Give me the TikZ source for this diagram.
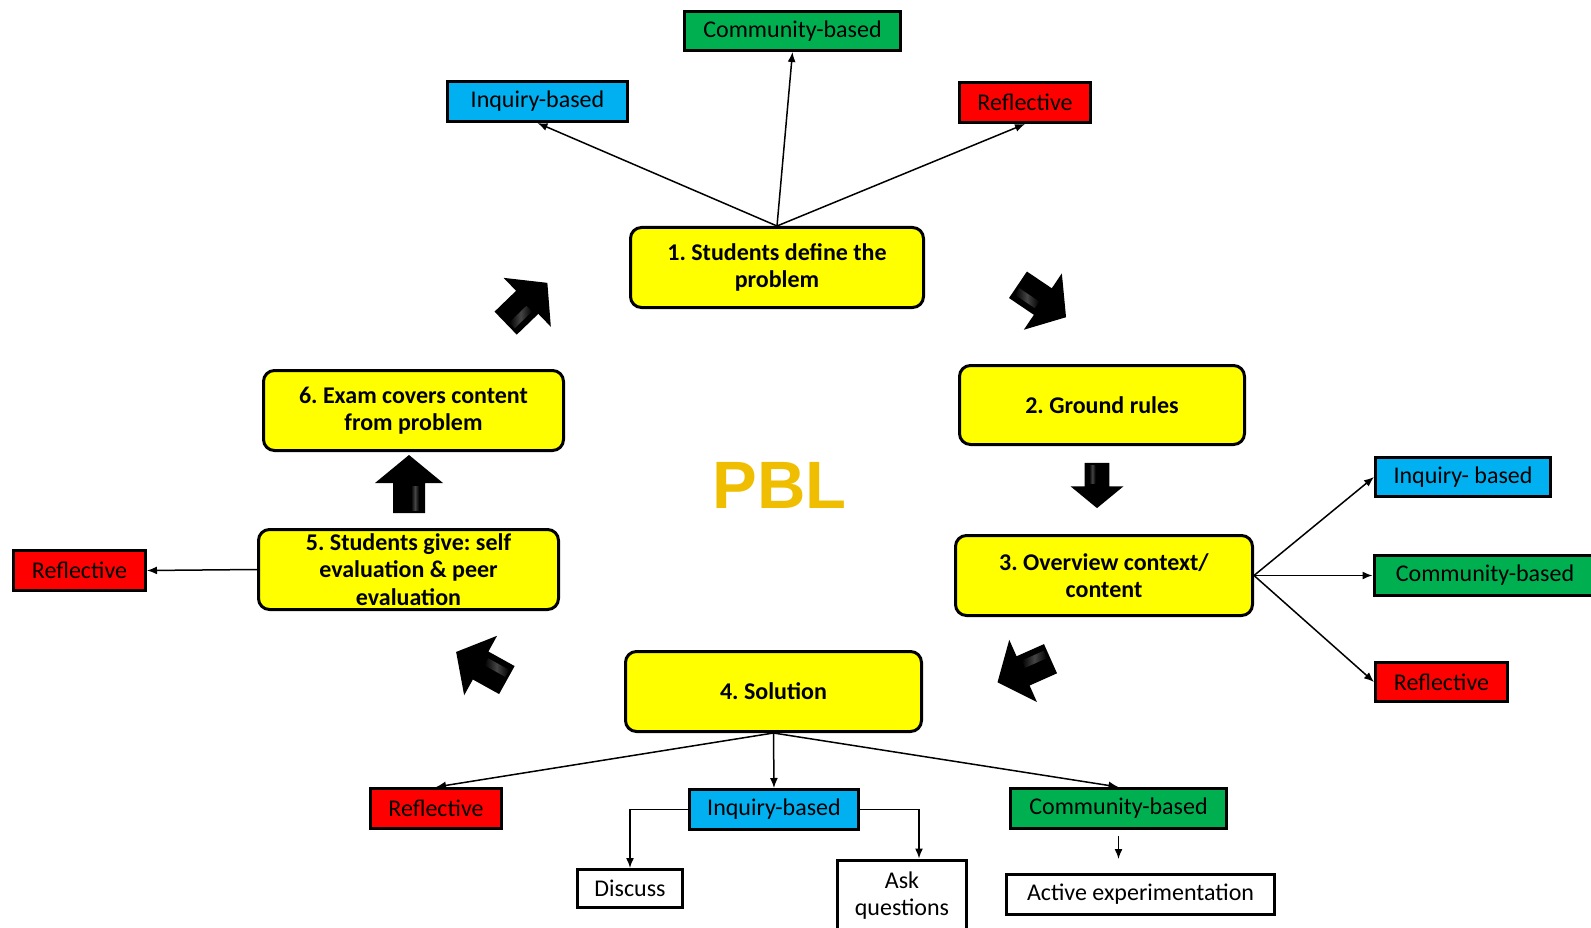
\documentclass[tikz,border=0pt]{standalone}
\usepackage{fontspec}
\setmainfont{Carlito}
\newfontfamily\pblfont{Liberation Sans}
\usetikzlibrary{arrows.meta,calc}
\definecolor{ybox}{RGB}{255,255,0}
\definecolor{cbox}{RGB}{0,176,240}
\definecolor{gbox}{RGB}{0,176,80}
\definecolor{rbox}{RGB}{255,0,0}
\definecolor{pblgold}{RGB}{240,190,0}
\newcommand\blkarrow[4]{%
  \begin{scope}[shift={(#1,#2)}, rotate=#3, scale=#4]
    \fill[black] (0,-29) -- (34,-1) -- (16,-1) -- (16,29) -- (-16,29) -- (-16,-1) -- (-34,-1) -- cycle;
    \shade[left color=black, right color=black, middle color=black!55, opacity=0.6]
      (2,2) -- (10,2) -- (10,26) -- (2,26) -- cycle;
  \end{scope}}
\frenchspacing
\begin{document}
\begin{tikzpicture}[x=1pt,y=-1pt,
  tag/.style={draw=black, line width=3pt, inner sep=0pt, align=center, text=black,
    font=\fontsize{24}{27}\selectfont},
  stage/.style={draw=black, line width=3pt, fill=ybox, rounded corners=11pt, inner sep=0pt,
    align=center, font=\fontsize{24}{27.5}\selectfont\bfseries},
  conn/.style={line width=1.5pt, -{Latex[length=10pt,width=8pt]}}
]
\useasboundingbox (0,0) rectangle (1591,928);
\clip (0,0) rectangle (1591,928);

% stages
\node[stage, minimum width=293pt, minimum height=80pt] (b1) at (777,267.5) {1. Students define the\\problem};
\node[stage, minimum width=285pt, minimum height=79pt] (b2) at (1102,405) {2. Ground rules};
\node[stage, minimum width=297pt, minimum height=80pt] (b3) at (1104,575.5) {3. Overview context/\\content};
\node[stage, minimum width=296pt, minimum height=80pt] (b4) at (773.5,691.5) {4. Solution};
\node[stage, minimum width=300pt, minimum height=80pt] (b5) at (408.5,569.5) {5. Students give: self\\evaluation \& peer\\evaluation};
\node[stage, minimum width=300pt, minimum height=80pt] (b6) at (413.5,410.5) {6. Exam covers content\\from problem};

% tags
\node[tag, fill=gbox, minimum width=216pt, minimum height=39pt] (comTop) at (792.5,31) {Community-based};
\node[tag, fill=cbox, minimum width=180pt, minimum height=40pt] (inqTop) at (537.5,101.5) {Inquiry-based};
\node[tag, fill=rbox, minimum width=131pt, minimum height=40pt] (refTop) at (1025,102.5) {Reflective};

\node[tag, fill=cbox, minimum width=175pt, minimum height=39pt] (inqR) at (1463,477) {Inquiry- based};
\node[tag, fill=gbox, minimum width=222pt, minimum height=40pt] (comR) at (1485,575.5) {Community-based};
\node[tag, fill=rbox, minimum width=132pt, minimum height=39pt] (refR) at (1441.5,682) {Reflective};

\node[tag, fill=rbox, minimum width=132pt, minimum height=40pt] (refL) at (79.5,570.5) {Reflective};

\node[tag, fill=rbox, minimum width=131pt, minimum height=40pt] (refB) at (436,808.5) {Reflective};
\node[tag, fill=cbox, minimum width=169pt, minimum height=40pt] (inqB) at (774,809.5) {Inquiry-based};
\node[tag, fill=gbox, minimum width=216pt, minimum height=40pt] (comB) at (1118.5,808.5) {Community-based};

\node[tag, fill=white, minimum width=105pt, minimum height=38pt] (discuss) at (630,888.5) {Discuss};
\node[tag, fill=white, minimum width=129pt, minimum height=72pt] (ask) at (902,896) {Ask\\questions};
\node[tag, fill=white, minimum width=268pt, minimum height=40pt] (active) at (1140.5,894.5) {Active experimentation};

% center label
\node[font=\pblfont\bfseries\fontsize{67}{67}\selectfont, text=pblgold, inner sep=0pt] (pbl) at (779.5,485.5) {PBL};

% connectors
\draw[conn] (b1.north) -- (inqTop.south);
\draw[conn] (b1.north) -- (comTop.south);
\draw[conn] (b1.north) -- (refTop.south);
\draw[conn] (b3.east) -- (inqR.west);
\draw[conn] (b3.east) -- (comR.west);
\draw[conn] (b3.east) -- (refR.west);
\draw[conn] (b5.west) -- (refL.east);
\draw[conn] (b4.south) -- (refB.north);
\draw[conn] (b4.south) -- (inqB.north);
\draw[conn] (b4.south) -- (comB.north);
\draw[conn] (inqB.west) -| (discuss.north);
\coordinate (askin) at ($(ask.north)+(17,0)$);
\draw[conn] (inqB.east) -| (askin);
\coordinate (actin) at ($(comB.south |- active.north)+(0,-14)$);
\draw[conn] ($(comB.south)+(0,6)$) -- (actin);

% block arrows
\blkarrow{526.5}{303}{-46}{1}
\blkarrow{1042}{301}{-124}{1}
\blkarrow{1097}{485.5}{180}{0.78}
\blkarrow{1024}{670.5}{114}{1}
\blkarrow{481.5}{666}{61}{1}
\blkarrow{409}{484}{0}{1}
\end{tikzpicture}
\end{document}
